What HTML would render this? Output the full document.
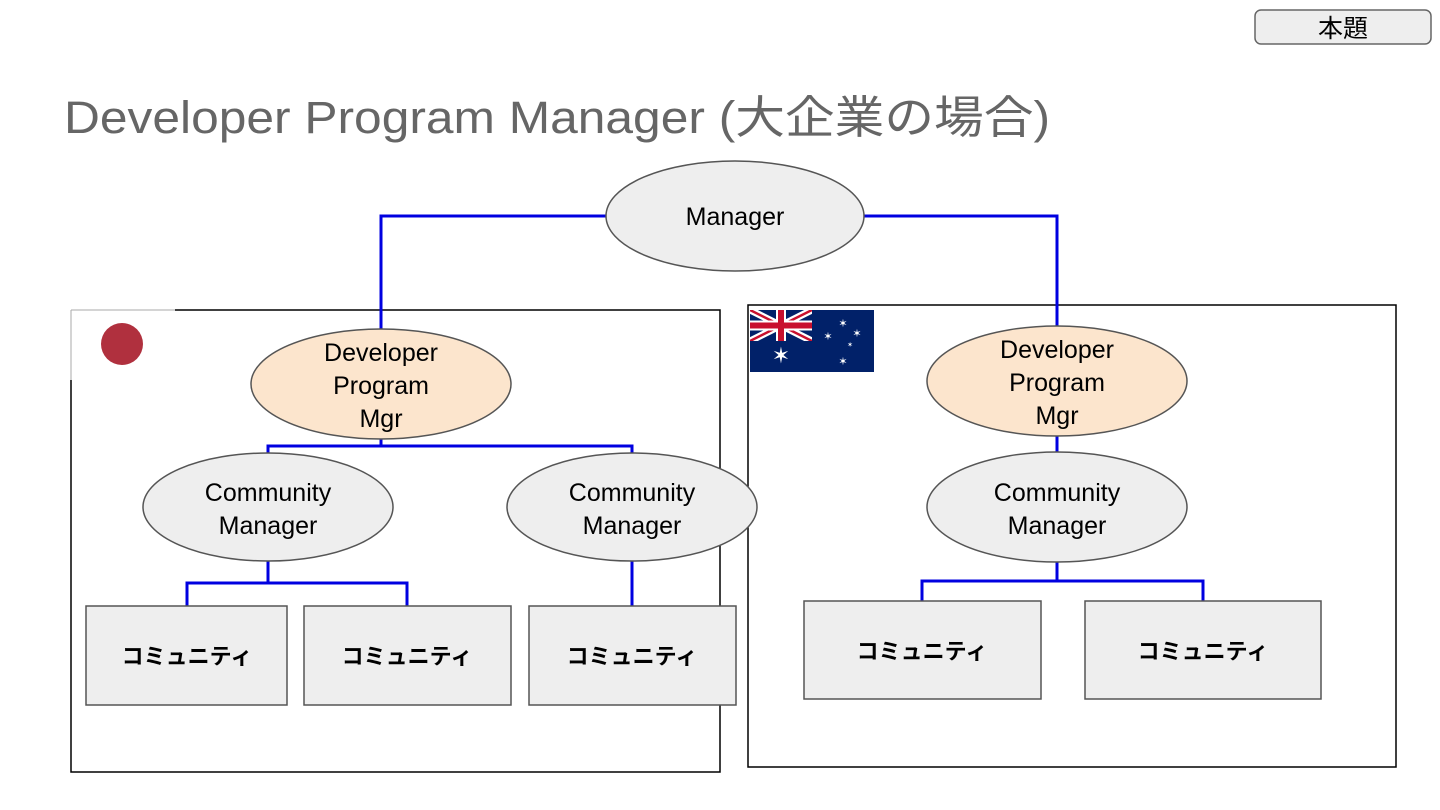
<!DOCTYPE html>
<html><head><meta charset="utf-8"><style>
html,body{margin:0;padding:0;background:#fff;}
svg{display:block;}
text{font-family:"Liberation Sans","Noto Sans CJK JP",sans-serif;}
</style></head><body>
<svg width="1440" height="810" viewBox="0 0 1440 810" xmlns="http://www.w3.org/2000/svg">
<rect width="1440" height="810" fill="#fff"/>
<rect x="1255" y="10" width="176" height="34" rx="6" fill="#eee" stroke="#666" stroke-width="1.5"/>
<text x="1343" y="37" font-size="25" text-anchor="middle" fill="#000">本題</text>
<text x="64" y="133" font-size="45" fill="#666" textLength="986" lengthAdjust="spacingAndGlyphs">Developer Program Manager (大企業の場合)</text>

<rect x="71" y="310" width="649" height="462" fill="none" stroke="#000" stroke-width="1.5"/>
<rect x="748" y="305" width="648" height="462" fill="none" stroke="#000" stroke-width="1.5"/>
<rect x="70" y="309" width="105" height="71" fill="#fff"/>
<line x1="71" y1="310" x2="175" y2="310" stroke="#aaa" stroke-width="1"/>
<line x1="71" y1="310" x2="71" y2="380" stroke="#aaa" stroke-width="1"/>
<circle cx="122" cy="344" r="21" fill="#b0303e"/>
<g>
<rect x="750" y="310" width="124" height="62" fill="#012169"/>
<clipPath id="uj"><rect x="750" y="310" width="62" height="31"/></clipPath>
<g clip-path="url(#uj)">
<path d="M750 310 L812 341 M812 310 L750 341" stroke="#fff" stroke-width="7"/>
<path d="M750 310 L812 341 M812 310 L750 341" stroke="#c8102e" stroke-width="2.5"/>
<path d="M781 310 V341 M750 325.5 H812" stroke="#fff" stroke-width="10"/>
<path d="M781 310 V341 M750 325.5 H812" stroke="#c8102e" stroke-width="6"/>
</g>
<text x="781" y="363" font-size="22" fill="#fff" text-anchor="middle">✶</text>
<text x="843" y="327" font-size="11" fill="#fff" text-anchor="middle">✶</text>
<text x="828" y="340" font-size="11" fill="#fff" text-anchor="middle">✶</text>
<text x="857" y="337" font-size="11" fill="#fff" text-anchor="middle">✶</text>
<text x="850" y="347" font-size="7" fill="#fff" text-anchor="middle">✶</text>
<text x="843" y="365" font-size="11" fill="#fff" text-anchor="middle">✶</text>
</g>

<g stroke="#0000e0" stroke-width="3" fill="none">
<path d="M606 216 H381 V330"/>
<path d="M864 216 H1057 V328"/>
<path d="M381 438 V446 M268 456 V446 H632 V456"/>
<path d="M268 560 V583 M187 606 V583 H407 V606"/>
<path d="M632 560 V606"/>
<path d="M1057 435 V453"/>
<path d="M1057 560 V581 M922 601 V581 H1203 V601"/>
</g>

<g stroke="#555" stroke-width="1.5">
<ellipse cx="735" cy="216" rx="129" ry="55" fill="#eee"/>
<ellipse cx="381" cy="384" rx="130" ry="55" fill="#fce5cd"/>
<ellipse cx="1057" cy="381" rx="130" ry="55" fill="#fce5cd"/>
<ellipse cx="268" cy="507" rx="125" ry="54" fill="#eee"/>
<ellipse cx="632" cy="507" rx="125" ry="54" fill="#eee"/>
<ellipse cx="1057" cy="507" rx="130" ry="55" fill="#eee"/>
</g>
<g font-size="25" fill="#000" text-anchor="middle">
<text x="735" y="225">Manager</text>
<text x="381" y="361">Developer</text><text x="381" y="394">Program</text><text x="381" y="427">Mgr</text>
<text x="1057" y="358">Developer</text><text x="1057" y="391">Program</text><text x="1057" y="424">Mgr</text>
<text x="268" y="501">Community</text><text x="268" y="534">Manager</text>
<text x="632" y="501">Community</text><text x="632" y="534">Manager</text>
<text x="1057" y="501">Community</text><text x="1057" y="534">Manager</text>
</g>

<g fill="#eee" stroke="#555" stroke-width="1.5">
<rect x="86" y="606" width="201" height="99"/>
<rect x="304" y="606" width="207" height="99"/>
<rect x="529" y="606" width="207" height="99"/>
<rect x="804" y="601" width="237" height="98"/>
<rect x="1085" y="601" width="236" height="98"/>
</g>
<g font-size="22" font-weight="bold" fill="#000" text-anchor="middle">
<text x="187" y="664">コミュニティ</text>
<text x="407" y="664">コミュニティ</text>
<text x="632" y="664">コミュニティ</text>
<text x="922" y="659">コミュニティ</text>
<text x="1203" y="659">コミュニティ</text>
</g>
</svg>
</body></html>
